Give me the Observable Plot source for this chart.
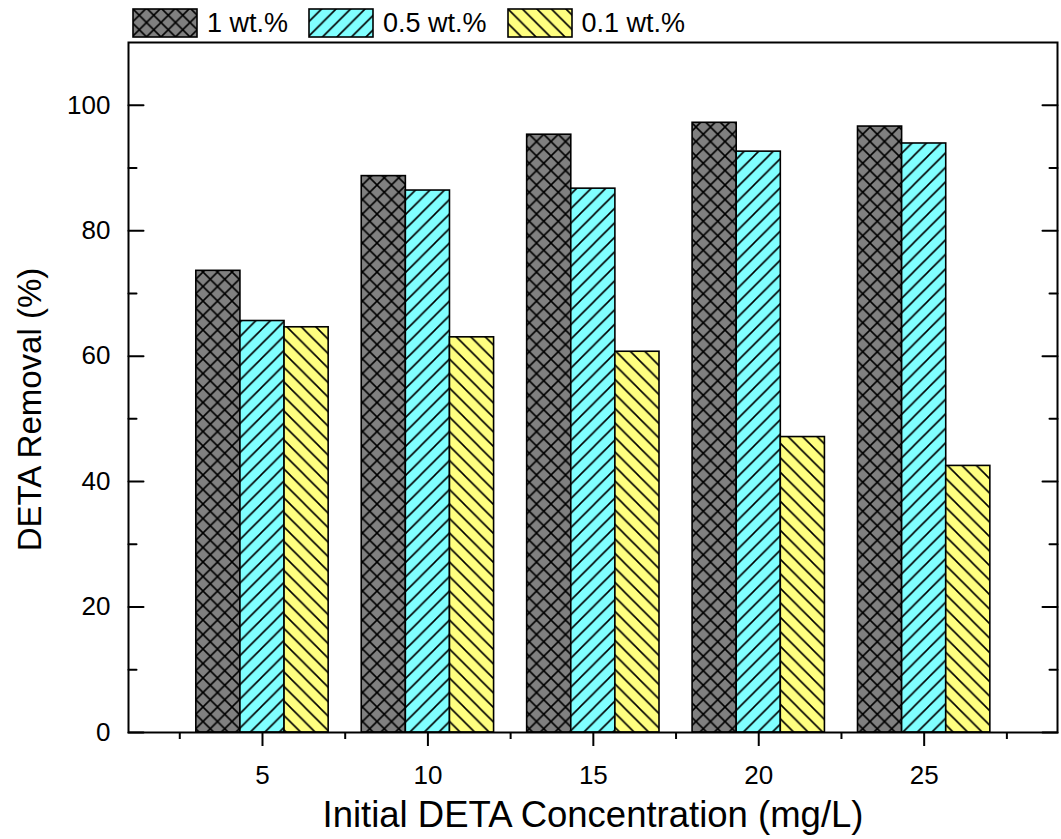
<!DOCTYPE html>
<html>
<head>
<meta charset="utf-8">
<script src="https://cdn.jsdelivr.net/npm/d3@7"></script>
<script src="https://cdn.jsdelivr.net/npm/@observablehq/plot@0.6"></script>
<style>
  body { margin: 0; background: #fff; font-family: "Liberation Sans", Arial, sans-serif; }
  #legend { height: 40px; width: 1061px; display: flex; align-items: flex-start; padding-left: 132px; box-sizing: border-box; }
  .item { display: flex; align-items: center; margin-top: 8px; margin-right: 20px; }
  .item svg { display: block; }
  .item span { font-size: 27px; line-height: 30px; margin-left: 9px; color: #000; }
  #chart svg { display: block; }
</style>
</head>
<body>
<!-- Hatch fills shared by the bars and the legend swatches -->
<svg width="0" height="0" style="position:absolute">
  <defs>
    <pattern id="fill-cross" patternUnits="userSpaceOnUse" width="14.5" height="14.5">
      <rect width="14.5" height="14.5" fill="#808080"/>
      <path d="M-1,1L1,-1M0,14.5L14.5,0M13.5,15.5L15.5,13.5M-1,13.5L1,15.5M0,0L14.5,14.5M13.5,-1L15.5,1" stroke="#000" stroke-width="1.6"/>
    </pattern>
    <pattern id="fill-fwd" patternUnits="userSpaceOnUse" width="14.5" height="14.5">
      <rect width="14.5" height="14.5" fill="#80ffff"/>
      <path d="M-1,1L1,-1M0,14.5L14.5,0M13.5,15.5L15.5,13.5" stroke="#000" stroke-width="1.6"/>
    </pattern>
    <pattern id="fill-back" patternUnits="userSpaceOnUse" width="14.5" height="14.5">
      <rect width="14.5" height="14.5" fill="#ffff80"/>
      <path d="M-1,13.5L1,15.5M0,0L14.5,14.5M13.5,-1L15.5,1" stroke="#000" stroke-width="1.6"/>
    </pattern>
  </defs>
</svg>
<div id="legend"></div>
<div id="chart"></div>
<script>
// Initial DETA concentration (mg/L) for each bar group
const concentrations = [5, 10, 15, 20, 25];
// Adsorbent dosage series
const seriesNames = ["1 wt.%", "0.5 wt.%", "0.1 wt.%"];
const seriesFills = ["url(#fill-cross)", "url(#fill-fwd)", "url(#fill-back)"];
// DETA removal (%) per series, in concentration order
const removal1wt = [73.6, 88.7, 95.3, 97.2, 96.6];
const removal05wt = [65.6, 86.4, 86.7, 92.6, 93.9];
const removal01wt = [64.6, 63.0, 60.7, 47.1, 42.5];
// Axis ticks
const yMajorTicks = [0, 20, 40, 60, 80, 100];
const yMinorTicks = [10, 30, 50, 70, 90];
const xMajorTicks = [5, 10, 15, 20, 25];
const xMinorTicks = [2.5, 7.5, 12.5, 17.5, 22.5, 27.5];

const seriesValues = [removal1wt, removal05wt, removal01wt];
const rows = concentrations.flatMap((c, i) =>
  seriesValues.map((vals, s) => ({conc: c, series: seriesNames[s], slot: s, value: vals[i]}))
);

// Each group spans 4 concentration units, split evenly among the series
const groupWidth = 4;
const barWidth = groupWidth / seriesNames.length;

// Legend
const legend = document.getElementById("legend");
seriesNames.forEach((name, i) => {
  const item = document.createElement("div");
  item.className = "item";
  item.innerHTML = `<svg width="66" height="30"><rect x="1" y="1" width="64" height="28" fill="${seriesFills[i]}" stroke="#000" stroke-width="1.6"/></svg><span>${name}</span>`;
  legend.appendChild(item);
});

const blank = () => "";
// plain straight tick drawn by the vector mark
const tickLine = {draw(context, l) { context.moveTo(0, 0); context.lineTo(0, -l); }};
// inward-pointing ticks on the left (rotate 90) and right (rotate -90) edges of the frame
const innerTicks = (ticks, side, len) => Plot.vector(ticks, {
  y: d => d, frameAnchor: side, rotate: side === "left" ? 90 : -90,
  length: len, anchor: "start", shape: tickLine, stroke: "black", strokeWidth: 2
});

const chart = Plot.plot({
  width: 1061,
  height: 799,
  marginTop: 2,
  marginBottom: 107,
  marginLeft: 128,
  marginRight: 4,
  style: {fontFamily: '"Liberation Sans", Arial, sans-serif', background: "white", color: "black"},
  x: {domain: [0.95, 29.03]},
  y: {domain: [0, 110], axis: null},
  color: {domain: seriesNames, range: seriesFills},
  marks: [
    Plot.rectY(rows, {
      x1: d => d.conc - groupWidth / 2 + d.slot * barWidth,
      x2: d => d.conc - groupWidth / 2 + (d.slot + 1) * barWidth,
      y: "value",
      fill: "series",
      stroke: "black",
      strokeWidth: 1.6
    }),
    // inward ticks on both vertical edges
    innerTicks(yMajorTicks, "left", 15),
    innerTicks(yMinorTicks, "left", 8),
    innerTicks(yMajorTicks, "right", 15),
    innerTicks(yMinorTicks, "right", 8),
    // y tick labels
    Plot.text(yMajorTicks, {y: d => d, text: d => String(d), frameAnchor: "left", textAnchor: "end", lineAnchor: "middle", dx: -18, fontSize: 26}),
    // bottom axis: outward ticks and labels
    Plot.axisX({ticks: xMajorTicks, tickSize: 14, tickFormat: blank, label: null, strokeWidth: 2}),
    Plot.axisX({ticks: xMinorTicks, tickSize: 7, tickFormat: blank, label: null, strokeWidth: 2}),
    Plot.text(xMajorTicks, {x: d => d, text: d => String(d), frameAnchor: "bottom", textAnchor: "middle", lineAnchor: "middle", dy: 43, fontSize: 26}),
    Plot.frame({stroke: "black", strokeWidth: 2}),
    Plot.text(["Initial DETA Concentration (mg/L)"], {text: d => d, frameAnchor: "bottom", dy: 83, lineAnchor: "middle", fontSize: 36.5}),
    Plot.text(["DETA Removal (%)"], {text: d => d, frameAnchor: "left", textAnchor: "middle", rotate: -90, dx: -98, dy: 22, lineAnchor: "middle", fontSize: 33})
  ]
});
document.getElementById("chart").appendChild(chart);
</script>
</body>
</html>
